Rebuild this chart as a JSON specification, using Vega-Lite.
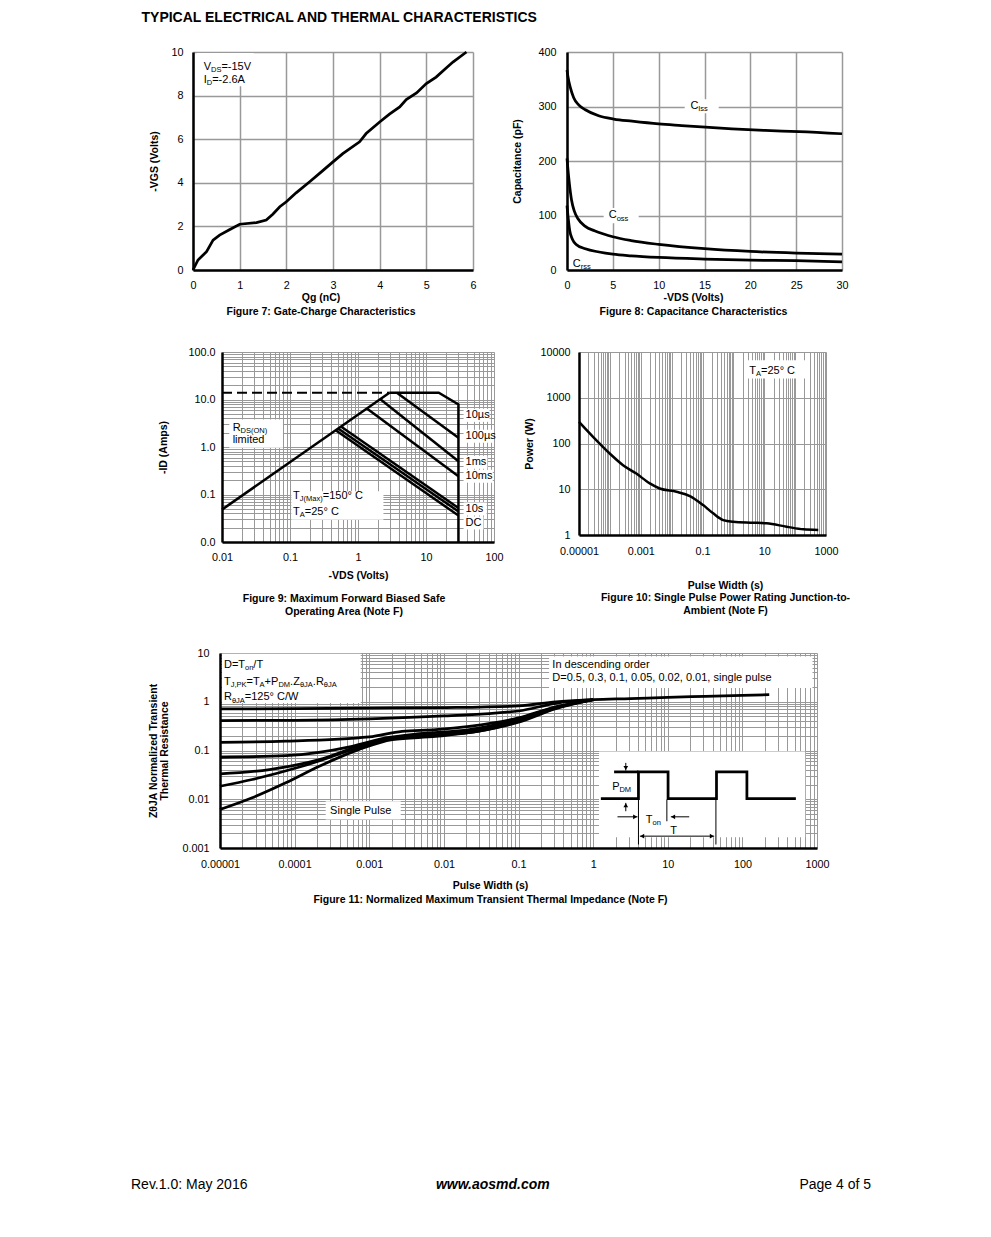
{
"$schema": "https://vega.github.io/schema/vega-lite/v6.json",
"background": "white",
"padding": {"left": 130, "top": 11, "right": 10, "bottom": 10},
"title": {"text": "TYPICAL ELECTRICAL AND THERMAL CHARACTERISTICS", "anchor": "start", "frame": "bounds", "dx": 11, "offset": 14, "fontSize": 14, "fontWeight": "bold", "color": "black", "font": "Liberation Sans"},
"spacing": 20,
"datasets": {
"fill": [{"x":0.5,"y":0.5}],
"f7": [{"x":0,"y":0},{"x":0.107,"y":0.46},{"x":0.29,"y":0.84},{"x":0.43,"y":1.37},{"x":0.57,"y":1.6},{"x":0.79,"y":1.86},{"x":1.0,"y":2.1},{"x":1.36,"y":2.17},{"x":1.57,"y":2.29},{"x":1.71,"y":2.56},{"x":1.86,"y":2.9},{"x":2.0,"y":3.13},{"x":2.21,"y":3.54},{"x":2.5,"y":4.05},{"x":2.75,"y":4.5},{"x":3.0,"y":4.96},{"x":3.21,"y":5.34},{"x":3.57,"y":5.88},{"x":3.71,"y":6.26},{"x":4.0,"y":6.79},{"x":4.21,"y":7.15},{"x":4.43,"y":7.48},{"x":4.57,"y":7.82},{"x":4.79,"y":8.12},{"x":5.0,"y":8.55},{"x":5.21,"y":8.85},{"x":5.39,"y":9.2},{"x":5.57,"y":9.54},{"x":5.86,"y":10.0}],
"a7": [{"x":-1.2857,"y":10.5505},{"x":6.364,"y":5}],
"b7": [{"x":0.08,"x2":1.3,"y":8.43,"y2":9.95}],
"t7": [{"x":0.229,"y":9.19,"t":"V"},{"x":0.609,"y":9.19,"t":"=-15V"},{"x":0.229,"y":8.58,"t":"I"},{"x":0.411,"y":8.58,"t":"=-2.6A"}],
"s7": [{"x":0.386,"y":9.10,"t":"DS"},{"x":0.296,"y":8.47,"t":"D"}],
"f8": [
{"s":"Ciss","x":0,"y":367},{"s":"Ciss","x":0.1,"y":355},{"s":"Ciss","x":0.36,"y":335},{"s":"Ciss","x":0.73,"y":316},{"s":"Ciss","x":1.27,"y":303},{"s":"Ciss","x":2,"y":294},{"s":"Ciss","x":3.45,"y":283},{"s":"Ciss","x":5.1,"y":277},{"s":"Ciss","x":7.1,"y":273},{"s":"Ciss","x":10,"y":268},{"s":"Ciss","x":12.5,"y":265},{"s":"Ciss","x":15.1,"y":262},{"s":"Ciss","x":18,"y":259},{"s":"Ciss","x":21.6,"y":256},{"s":"Ciss","x":25.3,"y":254},{"s":"Ciss","x":30,"y":250},
{"s":"Coss","x":0,"y":205},{"s":"Coss","x":0.1,"y":185},{"s":"Coss","x":0.25,"y":160},{"s":"Coss","x":0.5,"y":128},{"s":"Coss","x":0.8,"y":108},{"s":"Coss","x":1.2,"y":94},{"s":"Coss","x":2,"y":80},{"s":"Coss","x":3,"y":72},{"s":"Coss","x":4,"y":66},{"s":"Coss","x":5,"y":61},{"s":"Coss","x":7,"y":54},{"s":"Coss","x":10,"y":47},{"s":"Coss","x":15,"y":39},{"s":"Coss","x":20,"y":34},{"s":"Coss","x":25,"y":31},{"s":"Coss","x":30,"y":29},
{"s":"Crss","x":0,"y":118},{"s":"Crss","x":0.1,"y":100},{"s":"Crss","x":0.3,"y":72},{"s":"Crss","x":0.6,"y":56},{"s":"Crss","x":1,"y":47},{"s":"Crss","x":2,"y":39},{"s":"Crss","x":3.5,"y":33},{"s":"Crss","x":5,"y":29},{"s":"Crss","x":7,"y":26},{"s":"Crss","x":10,"y":23},{"s":"Crss","x":15,"y":20},{"s":"Crss","x":20,"y":18},{"s":"Crss","x":25,"y":17},{"s":"Crss","x":30,"y":15}],
"a8": [{"x":-8.236,"y":422.02}],
"b8": [{"x":12.84,"x2":16.55,"y":287.6,"y2":313.3},{"x":4.0,"x2":7.82,"y":85.6,"y2":113.6}],
"t8": [{"x":13.46,"y":296.3,"t":"C"},{"x":4.55,"y":94.7,"t":"C"},{"x":0.62,"y":6.0,"t":"C"}],
"s8": [{"x":14.32,"y":292.2,"t":"Iss"},{"x":5.42,"y":90.7,"t":"oss"},{"x":1.49,"y":2.0,"t":"rss"}],
"f9": [
{"s":"rds","i":0,"x":0.01,"y":0.048},{"s":"rds","i":1,"x":2.9,"y":13.9},
{"s":"lim","i":0,"x":2.9,"y":13.9},{"s":"lim","i":1,"x":15.4,"y":13.9},{"s":"lim","i":2,"x":30,"y":7.9},{"s":"lim","i":3,"x":30,"y":0.01},
{"s":"100us","i":0,"x":3.73,"y":13.9},{"s":"100us","i":1,"x":30,"y":1.56},
{"s":"1ms","i":0,"x":2.11,"y":10.2},{"s":"1ms","i":1,"x":30,"y":0.5},
{"s":"10ms","i":0,"x":1.35,"y":6.5},{"s":"10ms","i":1,"x":30,"y":0.242},
{"s":"a","i":0,"x":0.56,"y":2.7},{"s":"a","i":1,"x":30,"y":0.052},
{"s":"b","i":0,"x":0.51,"y":2.45},{"s":"b","i":1,"x":30,"y":0.044},
{"s":"c","i":0,"x":0.47,"y":2.26},{"s":"c","i":1,"x":30,"y":0.036}],
"f9d": [{"x":0.01,"y":13.9},{"x":2.9,"y":13.9}],
"a9": [{"x":0.0004911,"y":183.4},{"x":171.9,"y":1}],
"b9": [{"x":0.0128,"x2":0.0787,"y":0.962,"y2":3.8},{"x":0.1047,"x2":2.366,"y":0.0295,"y2":0.1167},
{"x":35.7,"x2":86,"y":3.38,"y2":6.35},{"x":35.7,"x2":96,"y":1.23,"y2":2.32},{"x":35.7,"x2":80,"y":0.349,"y2":0.655},{"x":35.7,"x2":96,"y":0.1765,"y2":0.332},{"x":35.7,"x2":78,"y":0.0363,"y2":0.0681},{"x":35.7,"x2":70,"y":0.0184,"y2":0.0345}],
"t9": [{"x":0.01435,"y":2.15,"t":"R"},{"x":0.01435,"y":1.186,"t":"limited"},{"x":0.1107,"y":0.0807,"t":"T"},{"x":0.303,"y":0.0807,"t":"=150° C"},{"x":0.1107,"y":0.0377,"t":"T"},{"x":0.165,"y":0.0377,"t":"=25° C"}],
"s9": [{"x":0.01875,"y":1.955,"t":"DS(ON)"},{"x":0.139,"y":0.0726,"t":"J(Max)"},{"x":0.139,"y":0.0342,"t":"A"}],
"t9r": [{"x":38.2,"y":4.63,"t":"10µs"},{"x":38.2,"y":1.69,"t":"100µs"},{"x":38.2,"y":0.478,"t":"1ms"},{"x":38.2,"y":0.242,"t":"10ms"},{"x":38.2,"y":0.0497,"t":"10s"},{"x":38.2,"y":0.0252,"t":"DC"}],
"f10": [{"x":0.00001,"y":297},{"x":0.0000285,"y":140},{"x":0.000099,"y":60.5},{"x":0.000267,"y":33.6},{"x":0.00072,"y":22},{"x":0.00196,"y":13.4},{"x":0.0041,"y":10.4},{"x":0.0144,"y":8.8},{"x":0.039,"y":7.1},{"x":0.105,"y":4.5},{"x":0.222,"y":2.97},{"x":0.468,"y":2.12},{"x":0.99,"y":1.95},{"x":4.4,"y":1.86},{"x":11.9,"y":1.8},{"x":53,"y":1.52},{"x":184,"y":1.33},{"x":562,"y":1.29}],
"a10": [{"x":6.76e-8,"y":18763}],
"b10": [{"x":2.37,"x2":209,"y":2630,"y2":6590}],
"t10": [{"x":3.27,"y":3381,"t":"T"},{"x":7.83,"y":3381,"t":"=25° C"}],
"s10": [{"x":5.38,"y":3055,"t":"A"}],
"f11": [
{"s":"d05","x":0.00001,"y":0.711},{"s":"d05","x":0.0001,"y":0.724},{"s":"d05","x":0.001,"y":0.741},{"s":"d05","x":0.01,"y":0.76},{"s":"d05","x":0.1,"y":0.82},{"s":"d05","x":0.316,"y":1.0},{"s":"d05","x":1,"y":1.1},{"s":"d05","x":3.16,"y":1.16},{"s":"d05","x":10,"y":1.23},{"s":"d05","x":31.6,"y":1.29},{"s":"d05","x":100,"y":1.35},{"s":"d05","x":229,"y":1.4},
{"s":"d03","x":0.00001,"y":0.41},{"s":"d03","x":0.0001,"y":0.417},{"s":"d03","x":0.001,"y":0.447},{"s":"d03","x":0.01,"y":0.513},{"s":"d03","x":0.1,"y":0.646},{"s":"d03","x":0.316,"y":0.93},{"s":"d03","x":1,"y":1.1},
{"s":"d01","x":0.00001,"y":0.147},{"s":"d01","x":0.000076,"y":0.155},{"s":"d01","x":0.001,"y":0.19},{"s":"d01","x":0.00275,"y":0.248},{"s":"d01","x":0.0078,"y":0.268},{"s":"d01","x":0.0219,"y":0.313},{"s":"d01","x":0.1,"y":0.466},{"s":"d01","x":0.316,"y":0.79},{"s":"d01","x":1,"y":1.1},
{"s":"d005","x":0.00001,"y":0.0726},{"s":"d005","x":0.000076,"y":0.0785},{"s":"d005","x":0.00059,"y":0.122},{"s":"d005","x":0.00166,"y":0.181},{"s":"d005","x":0.0047,"y":0.222},{"s":"d005","x":0.0219,"y":0.268},{"s":"d005","x":0.1,"y":0.447},{"s":"d005","x":0.316,"y":0.78},{"s":"d005","x":1,"y":1.1},
{"s":"d002","x":0.00001,"y":0.0331},{"s":"d002","x":0.000046,"y":0.0406},{"s":"d002","x":0.000214,"y":0.0652},{"s":"d002","x":0.00072,"y":0.122},{"s":"d002","x":0.00204,"y":0.181},{"s":"d002","x":0.0078,"y":0.212},{"s":"d002","x":0.0295,"y":0.268},{"s":"d002","x":0.1,"y":0.417},{"s":"d002","x":0.316,"y":0.76},{"s":"d002","x":1,"y":1.1},
{"s":"d001","x":0.00001,"y":0.0185},{"s":"d001","x":0.000027,"y":0.0254},{"s":"d001","x":0.000126,"y":0.0474},{"s":"d001","x":0.00059,"y":0.104},{"s":"d001","x":0.00166,"y":0.167},{"s":"d001","x":0.0078,"y":0.202},{"s":"d001","x":0.0295,"y":0.248},{"s":"d001","x":0.1,"y":0.398},{"s":"d001","x":0.316,"y":0.74},{"s":"d001","x":1,"y":1.1},
{"s":"single","x":0.00001,"y":0.00615},{"s":"single","x":0.000027,"y":0.0107},{"s":"single","x":0.000076,"y":0.0217},{"s":"single","x":0.000214,"y":0.0474},{"s":"single","x":0.00072,"y":0.104},{"s":"single","x":0.00204,"y":0.167},{"s":"single","x":0.0078,"y":0.195},{"s":"single","x":0.0295,"y":0.248},{"s":"single","x":0.1,"y":0.38},{"s":"single","x":0.316,"y":0.72},{"s":"single","x":1,"y":1.1}],
"a11": [{"x":6.826e-7,"y":19.37}],
"b11": [{"x":0.00001064,"x2":0.000769,"y":0.944,"y2":9.67},{"x":0.257,"x2":871,"y":1.92,"y2":8.51},{"x":0.000261,"x2":0.00264,"y":0.00384,"y2":0.0091},{"x":1.2,"x2":695,"y":0.00167,"y2":0.095}],
"t11": [{"x":0.00001131,"y":4.93,"t":"D=T"},{"x":0.000028,"y":4.93,"t":"/T"},
{"x":0.00001131,"y":2.24,"t":"T"},{"x":0.00002265,"y":2.24,"t":"=T"},{"x":0.0000396,"y":2.24,"t":"+P"},{"x":0.000087,"y":2.24,"t":".Z"},{"x":0.0001754,"y":2.24,"t":".R"},
{"x":0.00001131,"y":1.068,"t":"R"},{"x":0.0000215,"y":1.068,"t":"=125° C/W"},
{"x":0.284,"y":4.93,"t":"In descending order"},{"x":0.284,"y":2.62,"t":"D=0.5, 0.3, 0.1, 0.05, 0.02, 0.01, single pulse"},
{"x":0.000299,"y":0.00509,"t":"Single Pulse"},
{"x":1.798,"y":0.01543,"t":"P"},{"x":5.087,"y":0.00333,"t":"T"},{"x":10.77,"y":0.00198,"t":"T"}],
"s11": [{"x":0.0000217,"y":4.44,"t":"on"},{"x":0.00001391,"y":2.02,"t":"J,PK"},{"x":0.00003395,"y":2.02,"t":"A"},{"x":0.00006065,"y":2.02,"t":"DM"},{"x":0.0001178,"y":2.02,"t":"θJA"},{"x":0.0002462,"y":2.02,"t":"θJA"},{"x":0.00001444,"y":0.963,"t":"θJA"},{"x":2.252,"y":0.01391,"t":"DM"},{"x":6.256,"y":0.00303,"t":"on"}],
"f11w": [{"s":"pulse","i":0,"x":1.27,"y":0.01033},{"s":"pulse","i":1,"x":4.05,"y":0.01033},{"s":"pulse","i":2,"x":4.05,"y":0.0364},{"s":"pulse","i":3,"x":10.1,"y":0.0364},{"s":"pulse","i":4,"x":10.1,"y":0.01033},{"s":"pulse","i":5,"x":45,"y":0.01033},{"s":"pulse","i":6,"x":45,"y":0.0364},{"s":"pulse","i":7,"x":115,"y":0.0364},{"s":"pulse","i":8,"x":115,"y":0.01033},{"s":"pulse","i":9,"x":521,"y":0.01033},{"s":"ref","i":0,"x":1.91,"y":0.0364},{"s":"ref","i":1,"x":4.05,"y":0.0364}],
"f11r": [{"x":2.74,"x2":2.74,"y":0.0557,"y2":0.0387},{"x":2.74,"x2":2.74,"y":0.00568,"y2":0.00843},{"x":2.12,"x2":3.93,"y":0.00436,"y2":0.00436},{"x":11.0,"x2":19.4,"y":0.00436,"y2":0.00436},{"x":4.05,"x2":4.05,"y":0.00986,"y2":0.00118},{"x":9.73,"x2":9.73,"y":0.00986,"y2":0.00354},{"x":44.2,"x2":44.2,"y":0.00986,"y2":0.00118},{"x":4.23,"x2":41.9,"y":0.00175,"y2":0.00175}],
"f11a": [{"x":2.74,"y":0.0436,"d":"down"},{"x":2.74,"y":0.0075,"d":"up"},{"x":3.66,"y":0.00436,"d":"right"},{"x":11.8,"y":0.00436,"d":"left"},{"x":4.54,"y":0.00175,"d":"left"},{"x":39.0,"y":0.00175,"d":"right"}],
"ft": [{"x":0,"y":0.5,"t":"Rev.1.0: May 2016"}],
"fc": [{"x":0.489,"y":0.5,"t":"www.aosmd.com"}],
"fr": [{"x":1,"y":0.5,"t":"Page 4 of 5"}],
"af": [{"x":0,"y":13.4}]
},
"vconcat": [
{"hconcat": [
{"width": 1, "height": 1, "data": {"name": "fill"}, "mark": {"type": "point", "filled": true, "size": 1, "opacity": 0},
 "encoding": {"x": {"field": "x", "type": "quantitative", "scale": {"domain": [0, 1]}, "axis": null}, "y": {"field": "y", "type": "quantitative", "scale": {"domain": [0, 1]}, "axis": null}}},
{"width": 280, "height": 218,
 "title": {"text": "Qg (nC)", "subtitle": "Figure 7: Gate-Charge Characteristics", "orient": "bottom", "anchor": "middle", "frame": "group", "dx": -12, "offset": 3, "subtitlePadding": 4},
 "encoding": {
   "x": {"field": "x", "type": "quantitative", "scale": {"domain": [0, 6], "nice": false, "zero": false}, "axis": {"title": null, "values": [0,1,2,3,4,5,6], "grid": true, "gridWidth": 1.5, "labelPadding": 9, "format": "d"}},
   "y": {"field": "y", "type": "quantitative", "scale": {"domain": [0, 10], "nice": false}, "axis": {"title": "-VGS (Volts)", "values": [0,2,4,6,8,10], "grid": true, "gridWidth": 1.5, "labelPadding": 10, "titlePadding": 11}}},
 "layer": [
  {"data": {"name": "a7"}, "mark": {"type": "point", "filled": true, "size": 1, "opacity": 0}},
  {"data": {"name": "f7"}, "mark": {"type": "line", "color": "black", "strokeWidth": 2.75}},
  {"data": {"name": "b7"}, "mark": {"type": "rect", "fill": "white"}, "encoding": {"x2": {"field": "x2"}, "y2": {"field": "y2"}}},
  {"data": {"name": "t7"}, "mark": {"type": "text", "align": "left", "baseline": "alphabetic", "fontSize": 11, "color": "black"}, "encoding": {"text": {"field": "t"}}},
  {"data": {"name": "s7"}, "mark": {"type": "text", "align": "left", "baseline": "alphabetic", "fontSize": 7.5, "color": "black"}, "encoding": {"text": {"field": "t"}}}
 ]},
{"width": 275, "height": 218,
 "title": {"text": "-VDS (Volts)", "subtitle": "Figure 8: Capacitance Characteristics", "orient": "bottom", "anchor": "middle", "frame": "group", "dx": -11, "offset": 3, "subtitlePadding": 4},
 "encoding": {
   "x": {"field": "x", "type": "quantitative", "scale": {"domain": [0, 30], "nice": false, "zero": false}, "axis": {"title": null, "values": [0,5,10,15,20,25,30], "grid": true, "gridWidth": 1.5, "labelPadding": 9}},
   "y": {"field": "y", "type": "quantitative", "scale": {"domain": [0, 400], "nice": false}, "axis": {"title": "Capacitance (pF)", "values": [0,100,200,300,400], "grid": true, "gridWidth": 1.5, "labelPadding": 11, "titlePadding": 15}}},
 "layer": [
  {"data": {"name": "a8"}, "mark": {"type": "point", "filled": true, "size": 1, "opacity": 0}},
  {"data": {"name": "f8"}, "mark": {"type": "line", "color": "black", "strokeWidth": 2.75, "interpolate": "monotone"}, "encoding": {"detail": {"field": "s"}}},
  {"data": {"name": "b8"}, "mark": {"type": "rect", "fill": "white"}, "encoding": {"x2": {"field": "x2"}, "y2": {"field": "y2"}}},
  {"data": {"name": "t8"}, "mark": {"type": "text", "align": "left", "baseline": "alphabetic", "fontSize": 11, "color": "black"}, "encoding": {"text": {"field": "t"}}},
  {"data": {"name": "s8"}, "mark": {"type": "text", "align": "left", "baseline": "alphabetic", "fontSize": 7.5, "color": "black"}, "encoding": {"text": {"field": "t"}}}
 ]}
], "spacing": 0},
{"hconcat": [
{"width": 1, "height": 1, "data": {"name": "fill"}, "mark": {"type": "point", "filled": true, "size": 1, "opacity": 0},
 "encoding": {"x": {"field": "x", "type": "quantitative", "scale": {"domain": [0, 1]}, "axis": null}, "y": {"field": "y", "type": "quantitative", "scale": {"domain": [0, 1]}, "axis": null}}},
{"width": 272, "height": 190,
 "title": {"text": ["Figure 9: Maximum Forward Biased Safe", "Operating Area (Note F)"], "orient": "bottom", "anchor": "middle", "frame": "group", "dx": -14, "offset": 13, "lineHeight": 13},
 "encoding": {
   "x": {"field": "x", "type": "quantitative", "scale": {"type": "log", "domain": [0.01, 100], "nice": false}, "axis": {"title": "-VDS (Volts)", "titlePadding": 9, "values": [0.01,0.02,0.03,0.04,0.05,0.06,0.07,0.08,0.09,0.1,0.2,0.3,0.4,0.5,0.6,0.7,0.8,0.9,1,2,3,4,5,6,7,8,9,10,20,30,40,50,60,70,80,90,100], "grid": true, "labelPadding": 9, "labelExpr": "abs(log(datum.value)/LN10 - round(log(datum.value)/LN10)) < 0.01 ? (datum.value >= 1 ? format(datum.value, 'd') : format(datum.value, '.' + (-round(log(datum.value)/LN10)) + 'f')) : ''"}},
   "y": {"field": "y", "type": "quantitative", "scale": {"type": "log", "domain": [0.01, 100], "nice": false}, "axis": {"title": "-ID (Amps)", "titlePadding": 19, "values": [0.01,0.02,0.03,0.04,0.05,0.06,0.07,0.08,0.09,0.1,0.2,0.3,0.4,0.5,0.6,0.7,0.8,0.9,1,2,3,4,5,6,7,8,9,10,20,30,40,50,60,70,80,90,100], "grid": true, "labelPadding": 7, "labelExpr": "abs(log(datum.value)/LN10 - round(log(datum.value)/LN10)) < 0.01 ? format(datum.value, '.1f') : ''"}}},
 "layer": [
  {"data": {"name": "a9"}, "mark": {"type": "point", "filled": true, "size": 1, "opacity": 0}},
  {"data": {"name": "f9"}, "mark": {"type": "line", "color": "black", "strokeWidth": 2.5}, "encoding": {"detail": {"field": "s"}, "order": {"field": "i"}}},
  {"data": {"name": "f9d"}, "mark": {"type": "line", "color": "black", "strokeWidth": 2, "strokeDash": [10, 5]}},
  {"data": {"name": "b9"}, "mark": {"type": "rect", "fill": "white"}, "encoding": {"x2": {"field": "x2"}, "y2": {"field": "y2"}}},
  {"data": {"name": "t9"}, "mark": {"type": "text", "align": "left", "baseline": "alphabetic", "fontSize": 11, "color": "black"}, "encoding": {"text": {"field": "t"}}},
  {"data": {"name": "s9"}, "mark": {"type": "text", "align": "left", "baseline": "alphabetic", "fontSize": 7.5, "color": "black"}, "encoding": {"text": {"field": "t"}}},
  {"data": {"name": "t9r"}, "mark": {"type": "text", "align": "left", "baseline": "middle", "fontSize": 11, "color": "black"}, "encoding": {"text": {"field": "t"}}}
 ]},
{"width": 247, "height": 183,
 "title": {"text": "Pulse Width (s)", "subtitle": ["Figure 10: Single Pulse Power Rating Junction-to-", "Ambient (Note F)"], "orient": "bottom", "anchor": "middle", "frame": "group", "dx": 23, "offset": 25, "subtitlePadding": 2, "subtitleLineHeight": 13},
 "encoding": {
   "x": {"field": "x", "type": "quantitative", "scale": {"type": "log", "domain": [0.00001, 1000], "nice": false}, "axis": {"title": null, "values": [0.00001,0.00002,0.00003,0.00004,0.00005,0.00006,0.00007,0.00008,0.00009,0.0001,0.0002,0.0003,0.0004,0.0005,0.0006,0.0007,0.0008,0.0009,0.001,0.002,0.003,0.004,0.005,0.006,0.007,0.008,0.009,0.01,0.02,0.03,0.04,0.05,0.06,0.07,0.08,0.09,0.1,0.2,0.3,0.4,0.5,0.6,0.7,0.8,0.9,1,2,3,4,5,6,7,8,9,10,20,30,40,50,60,70,80,90,100,200,300,400,500,600,700,800,900,1000], "grid": true, "labelPadding": 10, "labelExpr": "abs(log(datum.value)/LN10 - round(log(datum.value)/LN10)) < 0.01 && abs(round(log(datum.value)/LN10)) % 2 == 1 ? (datum.value >= 1 ? format(datum.value, 'd') : format(datum.value, '.' + (-round(log(datum.value)/LN10)) + 'f')) : ''"}},
   "y": {"field": "y", "type": "quantitative", "scale": {"type": "log", "domain": [1, 10000], "nice": false}, "axis": {"title": "Power (W)", "titlePadding": 5, "values": [1,10,100,1000,10000], "format": "d", "grid": true, "labelPadding": 9}}},
 "layer": [
  {"data": {"name": "a10"}, "mark": {"type": "point", "filled": true, "size": 1, "opacity": 0}},
  {"data": {"name": "f10"}, "mark": {"type": "line", "color": "black", "strokeWidth": 2.5, "interpolate": "monotone"}},
  {"data": {"name": "b10"}, "mark": {"type": "rect", "fill": "white"}, "encoding": {"x2": {"field": "x2"}, "y2": {"field": "y2"}}},
  {"data": {"name": "t10"}, "mark": {"type": "text", "align": "left", "baseline": "alphabetic", "fontSize": 11, "color": "black"}, "encoding": {"text": {"field": "t"}}},
  {"data": {"name": "s10"}, "mark": {"type": "text", "align": "left", "baseline": "alphabetic", "fontSize": 7.5, "color": "black"}, "encoding": {"text": {"field": "t"}}}
 ]}
], "spacing": 0},
{"hconcat": [
{"width": 1, "height": 1, "data": {"name": "fill"}, "mark": {"type": "point", "filled": true, "size": 1, "opacity": 0},
 "encoding": {"x": {"field": "x", "type": "quantitative", "scale": {"domain": [0, 1]}, "axis": null}, "y": {"field": "y", "type": "quantitative", "scale": {"domain": [0, 1]}, "axis": null}}},
{"width": 597, "height": 195,
 "title": {"text": "Pulse Width (s)", "subtitle": "Figure 11: Normalized Maximum Transient Thermal Impedance (Note F)", "orient": "bottom", "anchor": "middle", "frame": "group", "dx": -28, "offset": 12, "subtitlePadding": 4},
 "encoding": {
   "x": {"field": "x", "type": "quantitative", "scale": {"type": "log", "domain": [0.00001, 1000], "nice": false}, "axis": {"title": null, "values": [0.00001,0.00002,0.00003,0.00004,0.00005,0.00006,0.00007,0.00008,0.00009,0.0001,0.0002,0.0003,0.0004,0.0005,0.0006,0.0007,0.0008,0.0009,0.001,0.002,0.003,0.004,0.005,0.006,0.007,0.008,0.009,0.01,0.02,0.03,0.04,0.05,0.06,0.07,0.08,0.09,0.1,0.2,0.3,0.4,0.5,0.6,0.7,0.8,0.9,1,2,3,4,5,6,7,8,9,10,20,30,40,50,60,70,80,90,100,200,300,400,500,600,700,800,900,1000], "grid": true, "labelPadding": 10, "labelExpr": "abs(log(datum.value)/LN10 - round(log(datum.value)/LN10)) < 0.01 ? (datum.value >= 1 ? format(datum.value, 'd') : format(datum.value, '.' + (-round(log(datum.value)/LN10)) + 'f')) : ''"}},
   "y": {"field": "y", "type": "quantitative", "scale": {"type": "log", "domain": [0.001, 10], "nice": false}, "axis": {"title": ["ZθJA Normalized Transient", "Thermal Resistance"], "titleLineHeight": 11.5, "titlePadding": 12, "values": [0.001,0.002,0.003,0.004,0.005,0.006,0.007,0.008,0.009,0.01,0.02,0.03,0.04,0.05,0.06,0.07,0.08,0.09,0.1,0.2,0.3,0.4,0.5,0.6,0.7,0.8,0.9,1,2,3,4,5,6,7,8,9,10], "grid": true, "labelPadding": 11, "labelExpr": "abs(log(datum.value)/LN10 - round(log(datum.value)/LN10)) < 0.01 ? (datum.value >= 1 ? format(datum.value, 'd') : format(datum.value, '.' + (-round(log(datum.value)/LN10)) + 'f')) : ''"}}},
 "layer": [
  {"data": {"name": "a11"}, "mark": {"type": "point", "filled": true, "size": 1, "opacity": 0}},
  {"data": {"name": "f11"}, "mark": {"type": "line", "color": "black", "strokeWidth": 2.75, "interpolate": "monotone"}, "encoding": {"detail": {"field": "s"}}},
  {"data": {"name": "b11"}, "mark": {"type": "rect", "fill": "white"}, "encoding": {"x2": {"field": "x2"}, "y2": {"field": "y2"}}},
  {"data": {"name": "f11w"}, "mark": {"type": "line", "color": "black", "strokeWidth": 2.75}, "encoding": {"detail": {"field": "s"}, "order": {"field": "i"}}},
  {"data": {"name": "f11r"}, "mark": {"type": "rule", "color": "black", "strokeWidth": 1}, "encoding": {"x2": {"field": "x2"}, "y2": {"field": "y2"}}},
  {"data": {"name": "f11a"}, "mark": {"type": "point", "filled": true, "color": "black", "size": 22, "opacity": 1}, "encoding": {"shape": {"field": "d", "type": "nominal", "scale": {"domain": ["up","down","left","right"], "range": ["triangle-up","triangle-down","triangle-left","triangle-right"]}, "legend": null}}},
  {"data": {"name": "t11"}, "mark": {"type": "text", "align": "left", "baseline": "alphabetic", "fontSize": 11, "color": "black"}, "encoding": {"text": {"field": "t"}}},
  {"data": {"name": "s11"}, "mark": {"type": "text", "align": "left", "baseline": "alphabetic", "fontSize": 7.5, "color": "black"}, "encoding": {"text": {"field": "t"}}}
 ]}
], "spacing": 0},
{"width": 740, "height": 20,
 "encoding": {
   "x": {"field": "x", "type": "quantitative", "scale": {"domain": [0, 1], "nice": false, "zero": false}, "axis": null},
   "y": {"field": "y", "type": "quantitative", "scale": {"domain": [0, 1], "nice": false, "zero": false}, "axis": null}},
 "layer": [
  {"data": {"name": "af"}, "mark": {"type": "point", "filled": true, "size": 1, "opacity": 0}},
  {"data": {"name": "ft"}, "mark": {"type": "text", "align": "left", "baseline": "middle", "fontSize": 14, "color": "black"}, "encoding": {"text": {"field": "t"}}},
  {"data": {"name": "fc"}, "mark": {"type": "text", "align": "center", "baseline": "middle", "fontSize": 14, "fontWeight": "bold", "fontStyle": "italic", "color": "black"}, "encoding": {"text": {"field": "t"}}},
  {"data": {"name": "fr"}, "mark": {"type": "text", "align": "right", "baseline": "middle", "fontSize": 14, "color": "black"}, "encoding": {"text": {"field": "t"}}}
 ]}
],
"config": {
 "font": "Liberation Sans",
 "view": {"stroke": null},
 "axis": {"labelFont": "Liberation Sans", "labelFontSize": 10.8, "labelColor": "black", "titleFont": "Liberation Sans", "titleFontSize": 10.5, "titleFontWeight": "bold", "titleColor": "black", "ticks": false, "tickSize": 0, "domainColor": "black", "domainWidth": 2.5, "gridColor": "#999999", "gridWidth": 1, "gridOpacity": 1, "labelFlush": false, "labelOverlap": false, "labelBound": false},
 "title": {"font": "Liberation Sans", "fontSize": 10.5, "fontWeight": "bold", "color": "black", "subtitleFont": "Liberation Sans", "subtitleFontSize": 10.5, "subtitleFontWeight": "bold", "subtitleColor": "black", "lineHeight": 13, "subtitleLineHeight": 13}
}
}
